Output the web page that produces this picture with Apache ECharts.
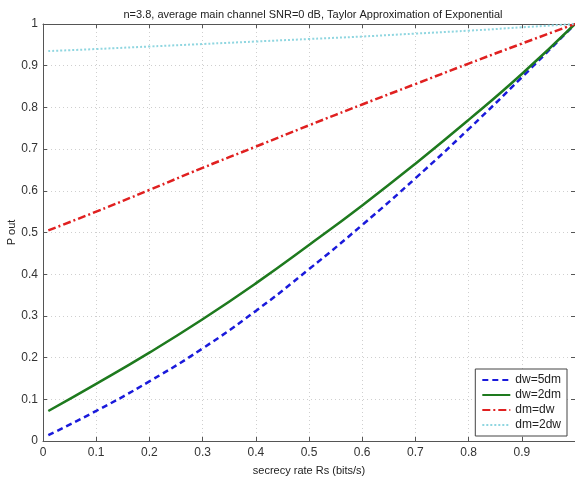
<!DOCTYPE html>
<html><head><meta charset="utf-8">
<script src="https://cdn.jsdelivr.net/npm/echarts@6/dist/echarts.min.js"></script>
<style>html,body{margin:0;padding:0;background:#fff}#c{width:575px;height:478px}</style>
</head><body><div id="c"></div>
<script>
var xValues = [0.01, 0.1, 0.2, 0.3, 0.4, 0.5, 0.6, 0.7, 0.8, 0.9, 1.0];
var dw5dm  = [0.014, 0.072, 0.143, 0.222, 0.312, 0.412, 0.518, 0.630, 0.748, 0.872, 1.0];
var dw2dm  = [0.072, 0.137, 0.212, 0.292, 0.378, 0.470, 0.565, 0.665, 0.770, 0.880, 1.0];
var dmdw   = [0.505, 0.550, 0.602, 0.655, 0.706, 0.757, 0.807, 0.856, 0.905, 0.953, 1.0];
var dm2dw  = [0.935, 0.940, 0.946, 0.952, 0.958, 0.964, 0.970, 0.977, 0.984, 0.992, 1.0];
var seriesNames = ['dw=5dm', 'dw=2dm', 'dm=dw', 'dm=2dw'];
var xTickLabels = ['0','0.1','0.2','0.3','0.4','0.5','0.6','0.7','0.8','0.9',''];
var yTickLabels = ['0','0.1','0.2','0.3','0.4','0.5','0.6','0.7','0.8','0.9','1'];
var titleText = 'n=3.8, average main channel SNR=0 dB, Taylor Approximation of Exponential';
var xName = 'secrecy rate Rs (bits/s)';
var yName = 'P out';

function pairs(ys){ return xValues.map(function(x,i){ return [x, ys[i]]; }); }
var font = 'Liberation Sans, Arial, sans-serif';
var chart = echarts.init(document.getElementById('c'));
var gridLine = {show:true, lineStyle:{color:'#cfcfcf', type:[1,3], width:1}};
var axisLine = {show:true, onZero:false, lineStyle:{color:'#555', width:1}};
chart.setOption({
  animation:false,
  backgroundColor:'#fff',
  title:{text:titleText, left:308, top:4, textAlign:'center',
    textStyle:{fontFamily:font, fontSize:11, fontWeight:'normal', color:'#222'}},
  grid:{left:43, right:0, top:24, bottom:37, containLabel:false, outerBoundsMode:'none'},
  legend:{
    data:seriesNames, orient:'vertical', right:8, bottom:42,
    backgroundColor:'#fff', borderColor:'#444', borderWidth:1, borderRadius:0,
    padding:[5,6,5,6], itemGap:3, itemWidth:28, itemHeight:12,
    itemStyle:{opacity:0},
    textStyle:{fontFamily:font, fontSize:12, color:'#222'}
  },
  xAxis:[{
    type:'value', min:0, max:1, interval:0.1, position:'bottom',
    name:xName, nameLocation:'middle', nameGap:24, nameMoveOverlap:false,
    nameTextStyle:{fontFamily:font, fontSize:11, color:'#222'},
    axisLine:axisLine, axisTick:{show:true, inside:true, length:4, lineStyle:{color:'#555'}},
    axisLabel:{fontFamily:font, fontSize:12, color:'#333', margin:6,
      formatter:function(v){ var i=Math.round(v*10); return xTickLabels[i]; }},
    splitLine:gridLine
  },{
    type:'value', min:0, max:1, interval:0.1, position:'top',
    axisLine:axisLine, axisTick:{show:true, inside:true, length:4, lineStyle:{color:'#555'}},
    axisLabel:{show:false}, splitLine:{show:false}
  }],
  yAxis:[{
    type:'value', min:0, max:1, interval:0.1, position:'left',
    name:yName, nameLocation:'middle', nameGap:26, nameRotate:90, nameMoveOverlap:false,
    nameTextStyle:{fontFamily:font, fontSize:11, color:'#222'},
    axisLine:axisLine, axisTick:{show:true, inside:true, length:4, lineStyle:{color:'#555'}},
    axisLabel:{fontFamily:font, fontSize:12, color:'#333', margin:5,
      formatter:function(v){ var i=Math.round(v*10); return yTickLabels[i]; }},
    splitLine:gridLine
  },{
    type:'value', min:0, max:1, interval:0.1, position:'right',
    axisLine:axisLine, axisTick:{show:true, inside:true, length:4, lineStyle:{color:'#555'}},
    axisLabel:{show:false}, splitLine:{show:false}
  }],
  series:[
    {name:seriesNames[0], type:'line', smooth:true, symbol:'none', data:pairs(dw5dm),
     lineStyle:{color:'#1a1adb', width:2.5, type:[6,4]}, itemStyle:{color:'#1a1adb'}},
    {name:seriesNames[1], type:'line', smooth:true, symbol:'none', data:pairs(dw2dm),
     lineStyle:{color:'#1e7a1e', width:2.5, type:'solid'}, itemStyle:{color:'#1e7a1e'}},
    {name:seriesNames[2], type:'line', smooth:true, symbol:'none', data:pairs(dmdw),
     lineStyle:{color:'#e02020', width:2.5, type:[8,3,2,3]}, itemStyle:{color:'#e02020'}},
    {name:seriesNames[3], type:'line', smooth:true, symbol:'none', data:pairs(dm2dw),
     lineStyle:{color:'#8fd6e0', width:2, type:[2,2]}, itemStyle:{color:'#8fd6e0'}}
  ]
});
</script></body></html>
